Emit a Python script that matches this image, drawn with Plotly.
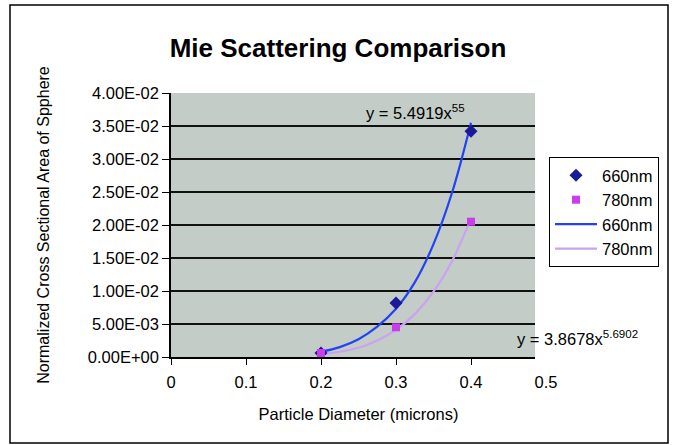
import plotly.graph_objects as go

# ---------------- data ----------------
diam_points = [0.2, 0.3, 0.4]
area_660 = [0.0006, 0.0082, 0.0342]
area_780 = [0.0006, 0.0045, 0.0205]

trend_x = [0.2, 0.225, 0.25, 0.275, 0.3, 0.325, 0.35, 0.375, 0.4]
trend_660 = [0.0008, 0.0015, 0.0027, 0.0046, 0.0073, 0.0113, 0.0171, 0.0250, 0.0355]
trend_780 = [0.0004, 0.0008, 0.0014, 0.0025, 0.0041, 0.0065, 0.0099, 0.0146, 0.0210]

y_tick_vals = [0, 0.005, 0.01, 0.015, 0.02, 0.025, 0.03, 0.035, 0.04]
y_tick_text = ["0.00E+00", "5.00E-03", "1.00E-02", "1.50E-02", "2.00E-02",
               "2.50E-02", "3.00E-02", "3.50E-02", "4.00E-02"]
x_tick_vals = [0, 0.1, 0.2, 0.3, 0.4, 0.5]
x_tick_text = ["0", "0.1", "0.2", "0.3", "0.4", "0.5"]

series_names = ["660nm", "780nm"]
eq_660 = "y = 5.4919x<sup>55</sup>"
eq_780 = "y = 3.8678x<sup>5.6902</sup>"

# ---------------- layout constants (pixels) ----------------
W, H = 673, 445
L, R_PLOT, R_LAB, T, B = 171, 535, 546, 93, 357
PW = R_LAB - L
PH = B - T
D = (R_PLOT - L) / PW
X2_MAX = 0.5
X_MAX = X2_MAX * D

FONT = "Liberation Sans, Arial, Helvetica, sans-serif"


def px_x(p):
    return (p - L) / PW


def px_y(p):
    return (B - p) / PH


fig = go.Figure()

fig.add_trace(go.Scatter(x=trend_x, y=trend_660, mode="lines", name=series_names[0],
                         line=dict(color="#2342f5", width=2.2, shape="spline"),
                         legendrank=3, hoverinfo="skip"))
fig.add_trace(go.Scatter(x=trend_x, y=trend_780, mode="lines", name=series_names[1],
                         line=dict(color="#c9a3f2", width=2.2, shape="spline"),
                         legendrank=4, hoverinfo="skip"))
fig.add_trace(go.Scatter(x=diam_points, y=area_660, mode="markers", name=series_names[0],
                         marker=dict(symbol="diamond", color="#1a1a99", size=10),
                         legendrank=1))
fig.add_trace(go.Scatter(x=diam_points, y=area_780, mode="markers", name=series_names[1],
                         marker=dict(symbol="square", color="#c83ee8", size=8),
                         legendrank=2))
# empty trace to host the label axis
fig.add_trace(go.Scatter(x=[], y=[], xaxis="x2", yaxis="y2", showlegend=False,
                         hoverinfo="skip"))

fig.update_layout(
    width=W, height=H,
    margin=dict(l=L, r=W - R_LAB, t=T, b=H - B),
    paper_bgcolor="white",
    plot_bgcolor="rgba(0,0,0,0)",
    font=dict(family=FONT, size=16, color="black"),
    title=dict(text="Mie Scattering Comparison", xref="container", yref="container",
               x=338 / W, y=1 - 48 / H, xanchor="center", yanchor="middle",
               font=dict(family=FONT, size=26, weight="bold", color="black")),
    xaxis=dict(domain=[0, D], range=[0, X_MAX], tickvals=x_tick_vals[:-1],
               showticklabels=False, ticks="outside", ticklen=6, tickwidth=1.3,
               tickcolor="black", showline=True, linecolor="black", linewidth=1.5,
               showgrid=False, zeroline=False),
    xaxis2=dict(domain=[0, 1], anchor="y2", range=[0, X2_MAX], tickvals=x_tick_vals,
                ticktext=x_tick_text, ticks="", showline=False, showgrid=False,
                zeroline=False, ticklabelstandoff=13,
                tickfont=dict(family=FONT, size=16.5),
                title=dict(text="Particle Diameter (microns)", standoff=18,
                           font=dict(family=FONT, size=16.5))),
    yaxis=dict(domain=[0, 1], range=[0, 0.04], tickvals=y_tick_vals, ticktext=y_tick_text,
               ticks="outside", ticklen=7, tickwidth=1.3, tickcolor="black",
               showline=True, linecolor="black", linewidth=1.5,
               showgrid=True, gridcolor="#111111", gridwidth=1.5, zeroline=False,
               tickfont=dict(family=FONT, size=16.5),
               title=dict(text="Normalized Cross Sectional Area of Spphere", standoff=34,
                          font=dict(family=FONT, size=16))),
    yaxis2=dict(domain=[0, 1], anchor="x2", range=[0, 0.04], visible=False,
                showgrid=False, zeroline=False),
    legend=dict(x=px_x(549), y=px_y(157), xanchor="left", yanchor="top",
                bgcolor="white", bordercolor="black", borderwidth=1,
                font=dict(family=FONT, size=16.5), itemwidth=42,
                traceorder="normal"),
    showlegend=True,
)

# grey plot area
fig.add_shape(type="rect", xref="x domain", yref="y domain", x0=0, x1=1, y0=0, y1=1,
              fillcolor="#c3ccc7", line=dict(width=0), layer="below")
# outer chart frame
fig.add_shape(type="rect", xref="paper", yref="paper",
              x0=px_x(10), x1=px_x(668), y0=px_y(443), y1=px_y(5),
              line=dict(color="black", width=1.5), fillcolor="rgba(0,0,0,0)",
              layer="below")

fig.add_annotation(text=eq_660, xref="paper", yref="paper", x=px_x(415), y=px_y(112),
                   xanchor="center", yanchor="middle", showarrow=False,
                   font=dict(family=FONT, size=16.5))
fig.add_annotation(text=eq_780, xref="paper", yref="paper", x=px_x(515), y=px_y(338),
                   xanchor="left", yanchor="middle", showarrow=False,
                   font=dict(family=FONT, size=16.5))

fig.write_html("out.html")
